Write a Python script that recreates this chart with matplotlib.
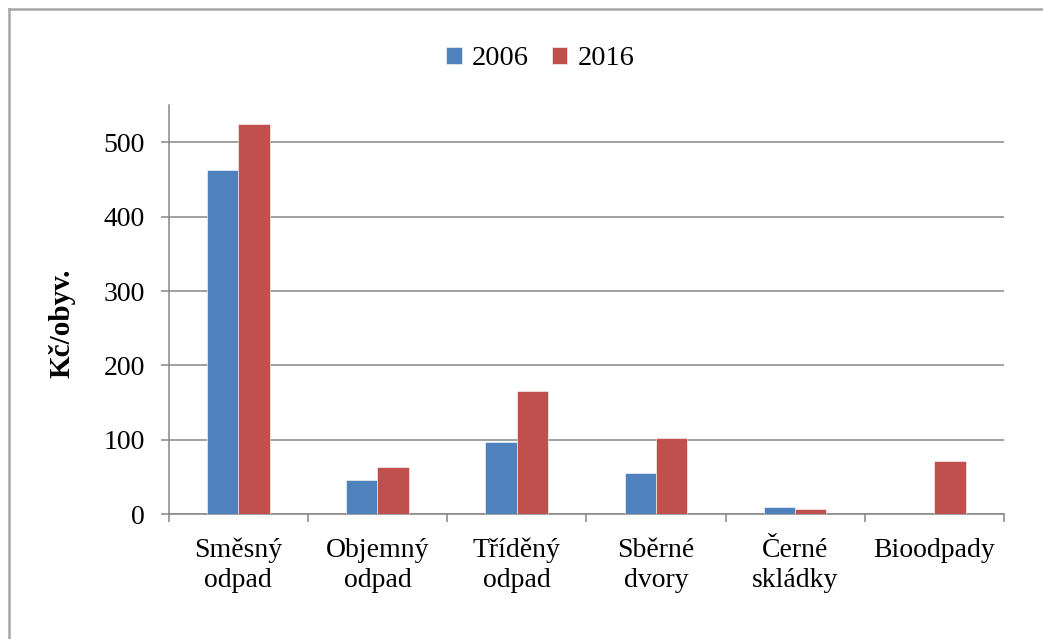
import matplotlib
matplotlib.use("Agg")
import matplotlib.pyplot as plt
import numpy as np
from matplotlib.lines import Line2D

categories = ["Směsný\nodpad", "Objemný\nodpad", "Tříděný\nodpad", "Sběrné\ndvory", "Černé\nskládky", "Bioodpady"]
series_names = ["2006", "2016"]
values_2006 = [463, 46, 97, 56, 10, 0]
values_2016 = [525, 63, 166, 102, 7, 71]
y_ticks = [0, 100, 200, 300, 400, 500]

plt.rcParams['font.family'] = ['Liberation Serif', 'DejaVu Serif']

fig = plt.figure(figsize=(10.43, 6.39), dpi=100)
ax = fig.add_axes([0.1617, 0.1952, 0.9626 - 0.1617, 0.8357 - 0.1952])

x = np.arange(len(categories))
w = 0.225
colors = ["#4F81BD", "#C0504D"]
ax.bar(x - w / 2, values_2006, width=w, color=colors[0], label=series_names[0],
       edgecolor="white", linewidth=0.4, zorder=3)
ax.bar(x + w / 2, values_2016, width=w, color=colors[1], label=series_names[1],
       edgecolor="white", linewidth=0.4, zorder=3)

fs = 20
ax.set_xlim(-0.5, len(categories) - 0.5)
ax.set_ylim(0, 550)
ax.set_yticks(y_ticks)
ax.set_yticklabels([str(t) for t in y_ticks], fontsize=fs)
ax.yaxis.grid(True, color="#868686", linewidth=1.1, zorder=0)
ax.set_axisbelow(True)

# category labels centred, ticks at boundaries
ax.set_xticks(x)
ax.set_xticklabels(categories, fontsize=fs, linespacing=1.25)
ax.tick_params(axis='x', which='major', length=0, pad=17)
ax.set_xticks(np.arange(len(categories) + 1) - 0.5, minor=True)
ax.tick_params(axis='x', which='minor', length=6, width=1.1, color="#868686", direction='out')
ax.tick_params(axis='y', length=6, width=1.1, color="#868686", direction='out', pad=11)

for s in ["top", "right"]:
    ax.spines[s].set_visible(False)
for s in ["left", "bottom"]:
    ax.spines[s].set_color("#868686")
    ax.spines[s].set_linewidth(1.1)

ax.set_ylabel("Kč/obyv.", fontsize=21, fontweight="bold")
ax.yaxis.set_label_coords(-0.111, 0.467)

leg = fig.legend(loc="center", bbox_to_anchor=(0.518, 0.908), ncol=2, frameon=False,
                 fontsize=20.5, handlelength=0.55, handleheight=0.55, handletextpad=0.35,
                 columnspacing=0.8)

# outer frame (left and top only, as in reference)
fig.add_artist(Line2D([9 / 1043, 9 / 1043], [0, 1 - 9 / 639], transform=fig.transFigure,
                      color="#a6a6a6", linewidth=1.8))
fig.add_artist(Line2D([9 / 1043, 1], [1 - 9 / 639, 1 - 9 / 639], transform=fig.transFigure,
                      color="#a6a6a6", linewidth=1.8))

fig.savefig("out.png", dpi=100)
